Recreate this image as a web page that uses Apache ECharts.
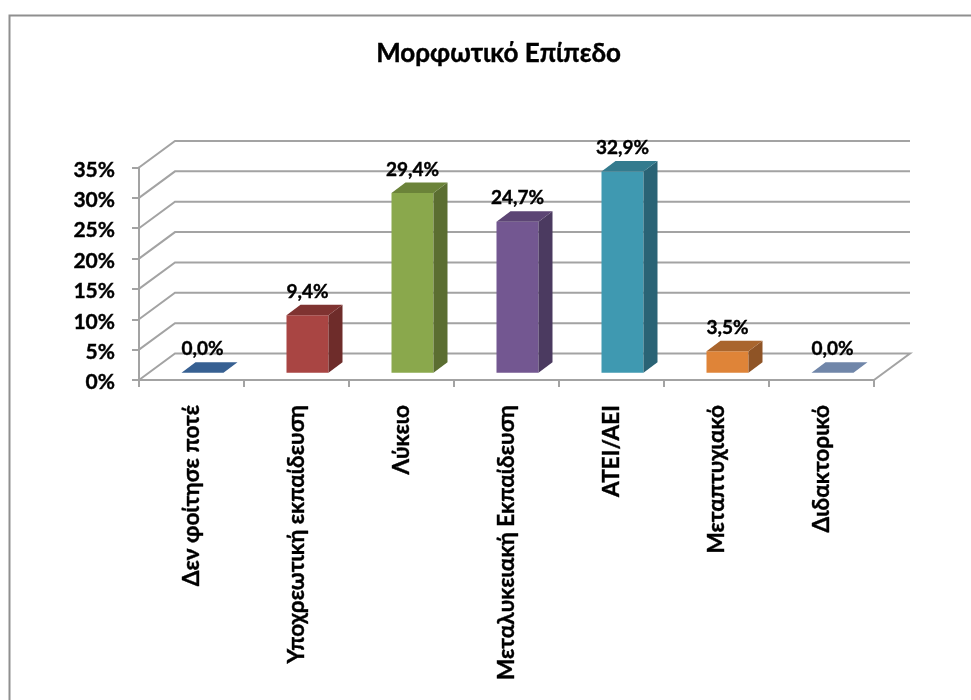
<!DOCTYPE html>
<html>
<head>
<meta charset="utf-8">
<style>html,body{margin:0;padding:0;background:#fff}#c{width:971px;height:700px}</style>
<script src="https://cdn.jsdelivr.net/npm/echarts@6/dist/echarts.min.js"></script>
</head>
<body>
<div id="c"></div>
<script>
const titleText = 'Μορφωτικό Επίπεδο';
const categories = ['Δεν φοίτησε ποτέ', 'Υποχρεωτική εκπαίδευση', 'Λύκειο', 'Μεταλυκειακή Εκπαίδευση', 'ΑΤΕΙ/ΑΕΙ', 'Μεταπτυχιακό', 'Διδακτορικό'];
const values = [0.0, 9.4, 29.4, 24.7, 32.9, 3.5, 0.0];
const yTicks = [0, 5, 10, 15, 20, 25, 30, 35];
const frontColors = ['#376092', '#a94543', '#8aa84c', '#735791', '#3f99b1', '#df8438', '#7086a9'];
const topColors   = ['#376092', '#7f3331', '#6b8339', '#5c4574', '#347b8e', '#a9652d', '#7086a9'];
const sideColors  = ['#2c4d75', '#6e2c2a', '#5b6e31', '#4b3a60', '#2a6375', '#8f5426', '#5a6c88'];

const FONT = 'Lato';
const LINE = '#a3a3a3';
const WALL_DX = 36, WALL_DY = 26.5;
const BAR_W = 42, BAR_DX = 14, BAR_DY = 10.5;

function renderGrid(params, api) {
  const cs = params.coordSys;
  const y = api.coord([0, api.value(0)])[1];
  const xL = cs.x, xR = cs.x + cs.width;
  const style = { stroke: LINE, lineWidth: 2, fill: null };
  const pts = api.value(0) === 0
    ? [[xL, y], [xL + WALL_DX, y - WALL_DY], [xR + WALL_DX, y - WALL_DY], [xR, y]]
    : [[xL, y], [xL + WALL_DX, y - WALL_DY], [xR + WALL_DX, y - WALL_DY]];
  return { type: 'polyline', shape: { points: pts }, style: style, silent: true };
}

function renderBar(params, api) {
  const i = params.dataIndex;
  const v = api.value(1);
  const base = api.coord([i, 0]);
  const top = api.coord([i, v]);
  const xl = base[0] - BAR_W / 2, xr = base[0] + BAR_W / 2, yb = base[1], yt = top[1];
  const children = [];
  if (v > 0) {
    children.push({ type: 'rect', shape: { x: xl, y: yt, width: BAR_W, height: yb - yt }, style: { fill: frontColors[i] } });
    children.push({ type: 'polygon', shape: { points: [[xr, yt], [xr + BAR_DX, yt - BAR_DY], [xr + BAR_DX, yb - BAR_DY], [xr, yb]] }, style: { fill: sideColors[i] } });
  }
  children.push({ type: 'polygon', shape: { points: [[xl, yt], [xl + BAR_DX, yt - BAR_DY], [xr + BAR_DX, yt - BAR_DY], [xr, yt]] }, style: { fill: topColors[i] } });
  children.push({
    type: 'text',
    style: {
      x: base[0], y: yt - BAR_DY - 13,
      text: v.toFixed(1).replace('.', ',') + '%',
      align: 'center', verticalAlign: 'middle',
      font: 'bold 19px "' + FONT + '"', fill: '#000',
      stroke: '#000', lineWidth: 0.4
    }
  });
  return { type: 'group', children: children };
}

const chart = echarts.init(document.getElementById('c'), null, { renderer: 'canvas' });
chart.setOption({
  animation: false,
  backgroundColor: '#fff',
  title: {
    text: titleText, left: 493.5, top: 49, textAlign: 'center', textVerticalAlign: 'middle',
    textStyle: { fontFamily: FONT, fontWeight: 'bold', fontSize: 26, color: '#000', textBorderColor: '#000', textBorderWidth: 0.4 }
  },
  graphic: [
    { type: 'polyline', shape: { points: [[9.5, 700], [9.5, 15.5], [971, 15.5]] }, style: { stroke: '#8f8f8f', lineWidth: 2, fill: null } }
  ],
  grid: [
    { left: 139, width: 735, top: 167.5, height: 212.5 },
    { left: 150, width: 735, top: 158.7, height: 214 }
  ],
  xAxis: [
    {
      gridIndex: 0, type: 'category', data: categories,
      axisLine: { show: true, onZero: false, lineStyle: { color: LINE, width: 2 } },
      axisTick: { show: true, length: 7, alignWithLabel: false, lineStyle: { color: LINE, width: 2 } },
      axisLabel: { interval: 0, rotate: 90, margin: 25, fontFamily: FONT, fontWeight: 'bold', fontSize: 22.6, color: '#000', textBorderColor: '#000', textBorderWidth: 0.4 },
      splitLine: { show: false }
    },
    { gridIndex: 1, type: 'category', data: categories, show: false }
  ],
  yAxis: [
    {
      gridIndex: 0, type: 'value', min: 0, max: 35, interval: 5,
      axisLine: { show: true, lineStyle: { color: LINE, width: 2 } },
      axisTick: { show: true, length: 7, lineStyle: { color: LINE, width: 2 } },
      axisLabel: {
        formatter: '{a|{value}%}', margin: 24, color: '#000',
        rich: { a: { padding: [5, 0, 0, 0], fontFamily: FONT, fontWeight: 'bold', fontSize: 21, color: '#000', textBorderColor: '#000', textBorderWidth: 0.4 } }
      },
      splitLine: { show: false }
    },
    { gridIndex: 1, type: 'value', min: 0, max: 35, interval: 5, show: false, splitLine: { show: false } }
  ],
  series: [
    {
      type: 'custom', xAxisIndex: 0, yAxisIndex: 0, clip: false, silent: true, z: 1,
      renderItem: renderGrid, encode: { y: 0 }, data: yTicks.map(v => [v])
    },
    {
      type: 'custom', xAxisIndex: 1, yAxisIndex: 1, clip: false, silent: true, z: 3,
      renderItem: renderBar, encode: { x: 0, y: 1 }, data: values.map((v, i) => [i, v])
    }
  ]
});
</script>
</body>
</html>
